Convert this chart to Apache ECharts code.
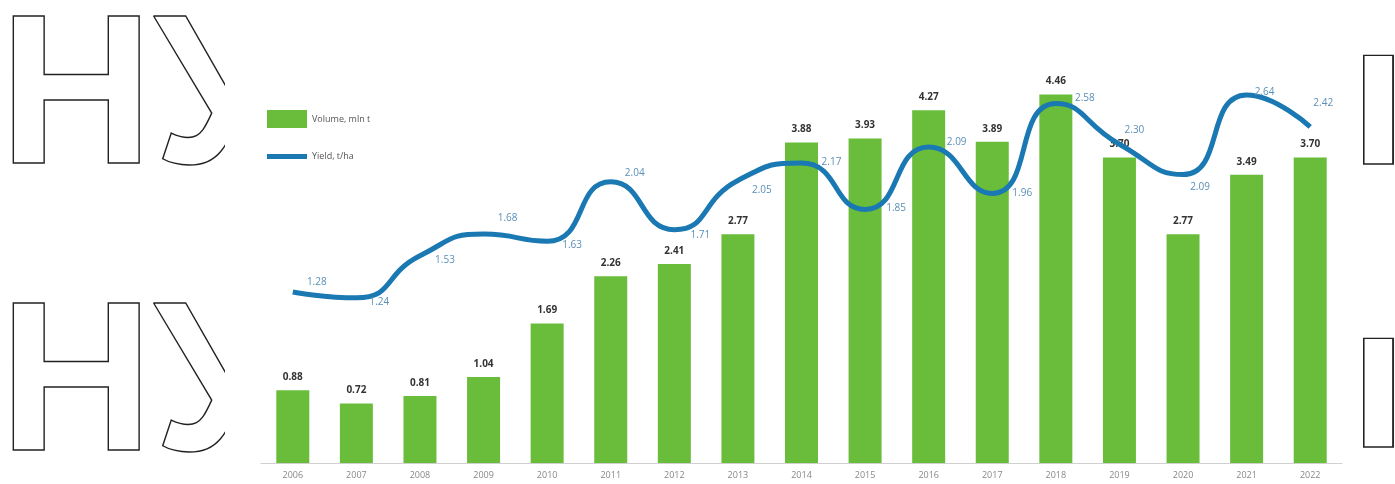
<!DOCTYPE html>
<html>
<head>
<meta charset="utf-8">
<script src="https://cdn.jsdelivr.net/npm/echarts@6/dist/echarts.min.js"></script>
<style>
html,body{margin:0;padding:0;background:#fff;}
#chart{width:1395px;height:484px;}
</style>
</head>
<body>
<div id="chart"></div>
<script>
const years = ['2006','2007','2008','2009','2010','2011','2012','2013','2014','2015','2016','2017','2018','2019','2020','2021','2022'];
const volume = [0.88,0.72,0.81,1.04,1.69,2.26,2.41,2.77,3.88,3.93,4.27,3.89,4.46,3.70,2.77,3.49,3.70];
const yieldVals = [1.28,1.24,1.53,1.68,1.63,2.04,1.71,2.05,2.17,1.85,2.28,1.96,2.58,2.30,2.09,2.64,2.42];
const yieldLabels = ['1.28','1.24','1.53','1.68','1.63','2.04','1.71','2.05','2.17','1.85','2.09','1.96','2.58','2.30','2.09','2.64','2.42'];
const volumeLabels = ['0.88','0.72','0.81','1.04','1.69','2.26','2.41','2.77','3.88','3.93','4.27','3.89','4.46','3.70','2.77','3.49','3.70'];
const seriesNames = ['Volume, mln t','Yield, t/ha'];
const watermarkText = 'НУ';
const watermarkEdge = 'I';

// label offsets (styling only)
const yieldLabelOffsets = [[24,-10],[23,4],[25,4],[24,-16],[25,4],[24,-9],[26,5],[24,10],[30,-1],[31,-1],[28,-5],[30,0],[29,-5],[15,-14],[17,13],[18,-3],[13,-24]];

const chart = echarts.init(document.getElementById('chart'));
const GREEN = '#6abd3b';
const BLUE = '#1a78b3';
const outline = { fill: 'rgba(0,0,0,0)', stroke: '#222', lineWidth: 1.4, verticalAlign: 'middle' };

const option = {
  backgroundColor: '#ffffff',
  animation: false,
  textStyle: { fontFamily: '"Open Sans", "Noto Sans", sans-serif' },
  graphic: [
    { type: 'text', z: -3, position: [-1, 104], style: Object.assign({ x: 0, y: 0, text: watermarkText, font: 'bold 214px "Liberation Sans"' }, outline) },
    { type: 'text', z: -3, position: [-1, 391], style: Object.assign({ x: 0, y: 0, text: watermarkText, font: 'bold 214px "Liberation Sans"' }, outline) },
    { type: 'text', z: -3, position: [1350, 121], scaleX: 1.3, style: Object.assign({ x: 0, y: 0, text: watermarkEdge, font: 'bold 157px "Liberation Sans"' }, outline) },
    { type: 'text', z: -3, position: [1350, 404], scaleX: 1.3, style: Object.assign({ x: 0, y: 0, text: watermarkEdge, font: 'bold 157px "Liberation Sans"' }, outline) },
    { type: 'rect', z: -2, shape: { x: 225, y: 0, width: 1138, height: 484 }, style: { fill: '#ffffff' } }
  ],
  legend: [
    {
      data: [{ name: seriesNames[0], icon: 'rect' }],
      orient: 'vertical', left: 262, top: 105,
      itemWidth: 40, itemHeight: 18,
      textStyle: { fontSize: 9, color: '#555' }
    },
    {
      data: [{ name: seriesNames[1], icon: 'rect', itemStyle: { color: BLUE } }],
      orient: 'vertical', left: 262, top: 147,
      itemWidth: 40, itemHeight: 5,
      textStyle: { fontSize: 9, color: '#555' }
    }
  ],
  grid: { left: 261, right: 53, top: 50, bottom: 21 },
  xAxis: {
    type: 'category',
    data: years,
    z: 5,
    axisLine: { lineStyle: { color: '#d0d0d0', width: 1 } },
    axisTick: { show: false },
    axisLabel: { fontSize: 9, color: '#888', margin: 8 }
  },
  yAxis: [
    { type: 'value', min: 0, max: 5, show: false, splitLine: { show: false } },
    { type: 'value', min: 0.1, max: 2.95, show: false, splitLine: { show: false } }
  ],
  series: [
    {
      name: seriesNames[0],
      type: 'bar',
      data: volume,
      barWidth: 33,
      itemStyle: { color: GREEN },
      label: {
        show: true, position: 'top', distance: 8,
        fontSize: 10, fontWeight: 'bold', color: '#333',
        formatter: p => volumeLabels[p.dataIndex]
      },
      z: 2
    },
    {
      name: seriesNames[1],
      type: 'line',
      yAxisIndex: 1,
      smooth: 0.55,
      data: yieldVals.map((v, i) => ({
        value: v,
        label: { offset: yieldLabelOffsets[i] }
      })),
      symbol: 'circle',
      symbolSize: 1,
      itemStyle: { color: 'rgba(0,0,0,0)', borderWidth: 0 },
      lineStyle: { color: BLUE, width: 5 },
      label: {
        show: true, position: 'inside',
        fontSize: 10, color: '#5a8fb8',
        formatter: p => yieldLabels[p.dataIndex]
      },
      z: 3
    }
  ]
};
chart.setOption(option);
</script>
</body>
</html>
